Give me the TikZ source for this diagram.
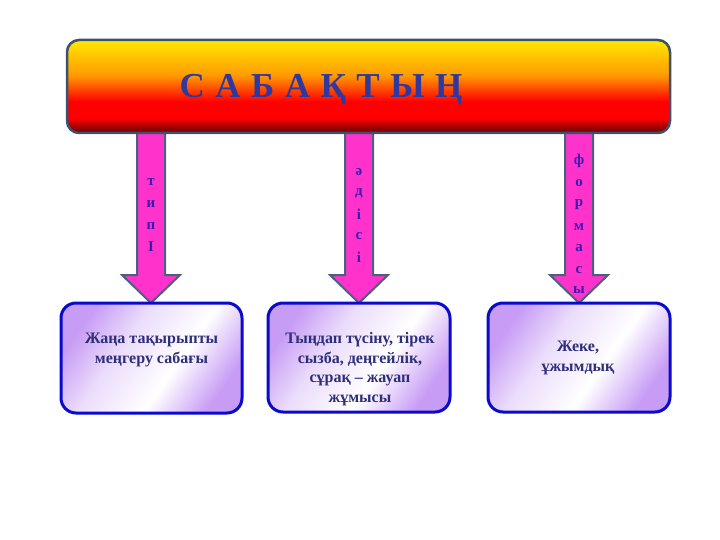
\documentclass[tikz,border=0pt]{standalone}
\usepackage{fontspec}
\setmainfont{Liberation Serif}
\definecolor{banY}{HTML}{FFE800}
\definecolor{banO}{HTML}{FF9A00}
\definecolor{banR}{HTML}{FF0000}
\definecolor{banD}{HTML}{600000}
\definecolor{banEdge}{HTML}{3C5070}
\definecolor{titleBlue}{HTML}{2F389E}
\definecolor{arrPink}{HTML}{FF33CC}
\definecolor{arrEdge}{HTML}{4A6080}
\definecolor{arrText}{HTML}{3A1AB0}
\definecolor{boxEdge}{HTML}{0A0ACC}
\definecolor{lavD}{HTML}{C79CF5}
\definecolor{lavL}{HTML}{EBDDFB}
\definecolor{boxText}{HTML}{2E2E7A}
\pgfdeclareverticalshading{bannershade}{100bp}{color(0bp)=(banD); color(25bp)=(banD); color(33bp)=(banR); color(42bp)=(banR); color(56bp)=(banO); color(75bp)=(banY); color(100bp)=(banY)}
\pgfdeclarehorizontalshading{boxshade}{100bp}{color(0bp)=(lavD); color(25bp)=(lavD); color(40bp)=(lavL); color(58bp)=(white); color(75bp)=(lavD); color(100bp)=(lavD)}
\newcommand\blockarrow[2]{%
  \draw[arrowbody] (#1-14,128) -- (#1+14,128) -- (#1+14,275) -- (#1+29,275)
    -- (#1,303) coordinate (#2) -- (#1-29,275) -- (#1-14,275) -- cycle;}
\newcommand\tgap{\hspace{10.5pt}}
\tikzset{
  banner/.style={rounded corners=12pt, draw=banEdge, line width=2.5pt, shading=bannershade, minimum width=603pt, minimum height=93pt, inner sep=0pt},
  titletext/.style={text=titleBlue, font=\fontsize{35}{40}\selectfont\bfseries},
  arrowbody/.style={fill=arrPink, draw=arrEdge, line width=2pt, line join=miter},
  arrletter/.style={text=arrText, font=\fontsize{15}{17}\selectfont\bfseries, inner sep=0pt},
  infobox/.style={rounded corners=15pt, draw=boxEdge, line width=3pt, shading=boxshade, shading angle=-35, inner sep=0pt},
  boxtext/.style={text=boxText, align=center, font=\fontsize{16}{19.5}\selectfont\bfseries, inner sep=0pt}
}
\begin{document}
\begin{tikzpicture}[x=1pt,y=-1pt]
\useasboundingbox (0,0) rectangle (720,540);
\fill[white] (0,0) rectangle (720,540);
% arrows
\blockarrow{151}{tipA}
\blockarrow{359}{tipB}
\blockarrow{579}{tipC}
% banner
\node[banner] (title) at (368.5,86.5) {};
\node[titletext] (titletxt) at (321,90) {С\tgap А\tgap Б\tgap А\tgap Қ\tgap Т\tgap Ы\tgap Ң};
% arrow letters
\node[arrletter] (a1) at (151,182) {т};
\node[arrletter] (a2) at (151,204) {и};
\node[arrletter] (a3) at (151,226) {п};
\node[arrletter] (a4) at (151,247) {І};
\node[arrletter] (b1) at (359,172) {ә};
\node[arrletter] (b2) at (359,193) {д};
\node[arrletter] (b3) at (359,214) {і};
\node[arrletter] (b4) at (359,236) {с};
\node[arrletter] (b5) at (359,257) {і};
\node[arrletter] (c1) at (579,161) {ф};
\node[arrletter] (c2) at (579,183) {о};
\node[arrletter] (c3) at (579,205) {р};
\node[arrletter] (c4) at (579,227) {м};
\node[arrletter] (c5) at (579,248) {а};
\node[arrletter] (c6) at (579,270) {с};
\node[arrletter] (c7) at (579,290) {ы};
% boxes
\node[infobox, minimum width=181pt, minimum height=110pt] (boxA) at (151.5,358) {};
\node[infobox, minimum width=182pt, minimum height=109pt] (boxB) at (359,357.5) {};
\node[infobox, minimum width=182pt, minimum height=109pt] (boxC) at (579,357.5) {};
\node[boxtext] (txtA) at (151.5,350) {Жаңа тақырыпты\\меңгеру сабағы};
\node[boxtext] (txtB) at (360,369) {Тыңдап түсіну, тірек\\сызба, деңгейлік,\\сұрақ – жауап\\жұмысы};
\node[boxtext] (txtC) at (578,358) {Жеке,\\ұжымдық};
\end{tikzpicture}
\end{document}
